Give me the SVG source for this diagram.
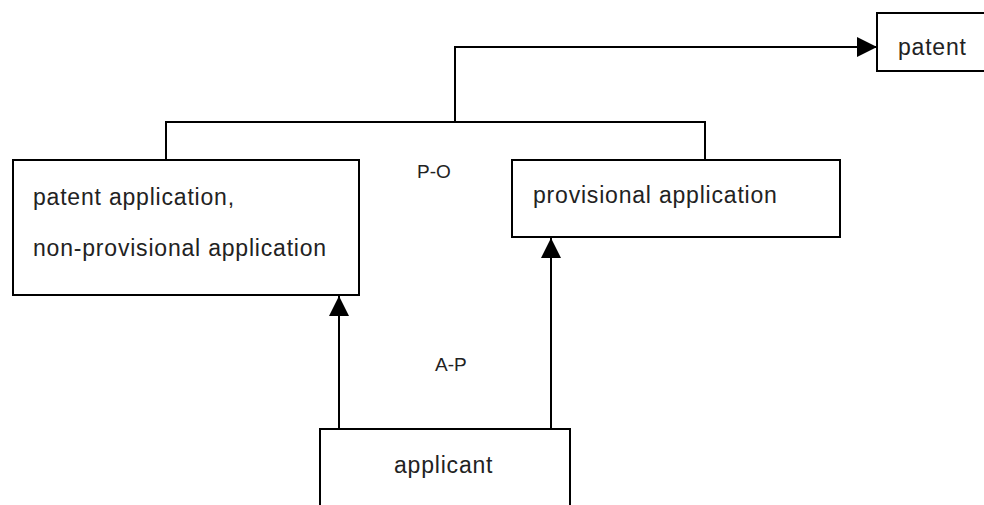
<svg xmlns="http://www.w3.org/2000/svg" width="984" height="505" viewBox="0 0 984 505">
<style>
.box{fill:#fff;stroke:#000;stroke-width:2}
.t{font-family:"Liberation Sans",Arial,sans-serif;font-size:23px;letter-spacing:0.8px;fill:#222}
.l{font-family:"Liberation Sans",Arial,sans-serif;font-size:19px;fill:#222}
.c{fill:none;stroke:#000;stroke-width:2}
</style>
<defs>
<marker id="ah" viewBox="0 0 20 20" refX="20" refY="10" markerWidth="20" markerHeight="20" markerUnits="userSpaceOnUse" orient="auto">
<path d="M0,0 L20,10 L0,20 Z" fill="#000"/>
</marker>
</defs>
<rect width="984" height="505" fill="#fff"/>
<g id="connectors">
<polyline class="c" points="166,160 166,122 705,122 705,160"/>
<polyline class="c" points="455,122 455,47 877,47" marker-end="url(#ah)"/>
<line class="c" x1="339" y1="429" x2="339" y2="296" marker-end="url(#ah)"/>
<line class="c" x1="551" y1="429" x2="551" y2="238" marker-end="url(#ah)"/>
</g>
<g id="patent">
<rect class="box" x="877" y="13" width="120" height="58"/>
<text class="t" x="898" y="55">patent</text>
</g>
<g id="patent-application">
<rect class="box" x="13" y="160" width="346" height="135"/>
<text class="t" x="33" y="205">patent application,</text>
<text class="t" x="33" y="256">non-provisional application</text>
</g>
<g id="provisional-application">
<rect class="box" x="512" y="160" width="328" height="77"/>
<text class="t" x="533" y="203">provisional application</text>
</g>
<g id="applicant">
<rect class="box" x="320" y="429" width="250" height="90"/>
<text class="t" x="394" y="473">applicant</text>
</g>
<text class="l" x="417" y="178">P-O</text>
<text class="l" x="435" y="371">A-P</text>
</svg>
